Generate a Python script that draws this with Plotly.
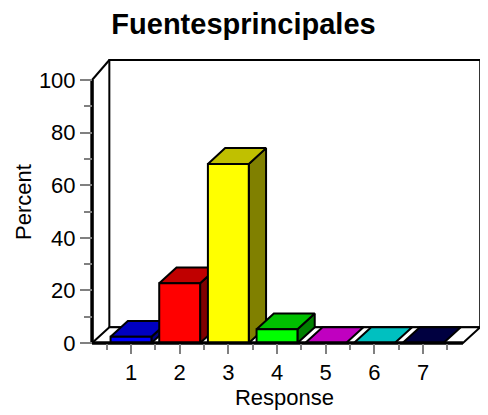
import plotly.graph_objects as go

# ---- data ----
categories = [1, 2, 3, 4, 5, 6, 7]
percent = [2.4, 22.7, 68.1, 5.2, 0, 0, 0]
front_colors = ['#0000ff', '#ff0000', '#ffff00', '#00ff00', '#ff00ff', '#00ffff', '#000055']
top_colors = ['#0000c0', '#c00000', '#c0c000', '#00c000', '#c000c0', '#00c0c0', '#000040']
side_colors = ['#000080', '#800000', '#808000', '#008000', '#800080', '#008080', '#000030']
y_ticks = [0, 20, 40, 60, 80, 100]
y_minor = [10, 30, 50, 70, 90]
x_minor = [0.5, 1.5, 2.5, 3.5, 4.5, 5.5, 6.5, 7.5]

# ---- styling / geometry ----
HW = 0.42          # half bar width (category units)
DX, DY = 0.355, 6.0  # depth offset
X0, X1 = 0.2, 7.82   # floor front extent
WALL_TOP = 107.6
FONT = "Liberation Sans, Arial, sans-serif"

fig = go.Figure()

def poly(xs, ys, fill, lw=2):
    fig.add_trace(go.Scatter(
        x=xs + [xs[0]], y=ys + [ys[0]], mode='lines', fill='toself',
        fillcolor=fill, line=dict(color='black', width=lw),
        hoverinfo='skip', showlegend=False))

# back wall
poly([X0 + DX, X1 + DX, X1 + DX, X0 + DX], [DY, DY, WALL_TOP, WALL_TOP], 'white')
# floor
poly([X0, X1, X1 + DX, X0 + DX], [0, 0, DY, DY], 'white')

# bars (pseudo-3D), drawn left to right
for c, v, fc, tc, sc in zip(categories, percent, front_colors, top_colors, side_colors):
    l, r = c - HW, c + HW
    if v > 0:
        poly([r, r + DX, r + DX, r], [0, DY, v + DY, v], sc)
    poly([l, r, r + DX, l + DX], [v, v, v + DY, v + DY], tc)
    if v > 0:
        poly([l, r, r, l], [0, 0, v, v], fc)

# front axis lines and top diagonal
def line(xs, ys, w):
    fig.add_trace(go.Scatter(x=xs, y=ys, mode='lines',
                             line=dict(color='black', width=w),
                             hoverinfo='skip', showlegend=False))

line([X0, X0], [0, 100], 3.5)
line([X0, X1], [0, 0], 3.5)
line([X0, X0 + DX], [100, WALL_TOP], 2)

# page has an 8px body margin; work in page pixels and convert
OFF = 8
W, H = 488 - OFF, 415 - OFF
plot_l, plot_r, plot_t, plot_b = 85, 484, 56, 348     # page pixels
ml, mr = plot_l - OFF, (W + OFF) - plot_r
mt, mb = plot_t - OFF, (H + OFF) - plot_b
pw, ph = W - ml - mr, H - mt - mb
px_cat = 48.67
px_unit = 2.63
x_lo = 1 + (plot_l - 131) / px_cat
x_hi = x_lo + pw / px_cat
y_lo = -(plot_b - 343) / px_unit
y_hi = y_lo + ph / px_unit

fig.update_layout(
    width=W, height=H,
    margin=dict(l=ml, r=mr, t=mt, b=mb, autoexpand=False),
    paper_bgcolor='white', plot_bgcolor='white',
    font=dict(family=FONT, color='black', size=22),
    title=dict(text='<b>Fuentesprincipales</b>', x=(243.5 - OFF) / W, xanchor='center',
               y=1 - (24 - OFF) / H, yanchor='middle',
               font=dict(family=FONT, size=29, color='black')),
    xaxis=dict(range=[x_lo, x_hi], anchor='free', automargin=False,
               position=(plot_b - 343) / ph,
               tickmode='array', tickvals=categories,
               ticktext=[str(c) for c in categories],
               ticks='outside', ticklen=10, tickwidth=2, tickcolor='#808080',
               minor=dict(tickmode='array', tickvals=x_minor, ticks='outside',
                          ticklen=6, tickwidth=2, tickcolor='#808080'),
               showline=False, showgrid=False, zeroline=False,
               tickfont=dict(size=22, family=FONT),
               title=dict(text='Response', standoff=2,
                          font=dict(size=22, family=FONT))),
    yaxis=dict(range=[y_lo, y_hi], anchor='free', automargin=False,
               position=(92 - plot_l) / pw,
               tickmode='array', tickvals=y_ticks,
               ticks='outside', ticklen=12, tickwidth=2, tickcolor='#808080',
               minor=dict(tickmode='array', tickvals=y_minor, ticks='outside',
                          ticklen=8, tickwidth=2, tickcolor='#808080'),
               showline=False, showgrid=False, zeroline=False,
               tickfont=dict(size=22, family=FONT),
               title=dict(text='Percent', standoff=0,
                          font=dict(size=22, family=FONT))),
)

fig.write_html("out.html")
